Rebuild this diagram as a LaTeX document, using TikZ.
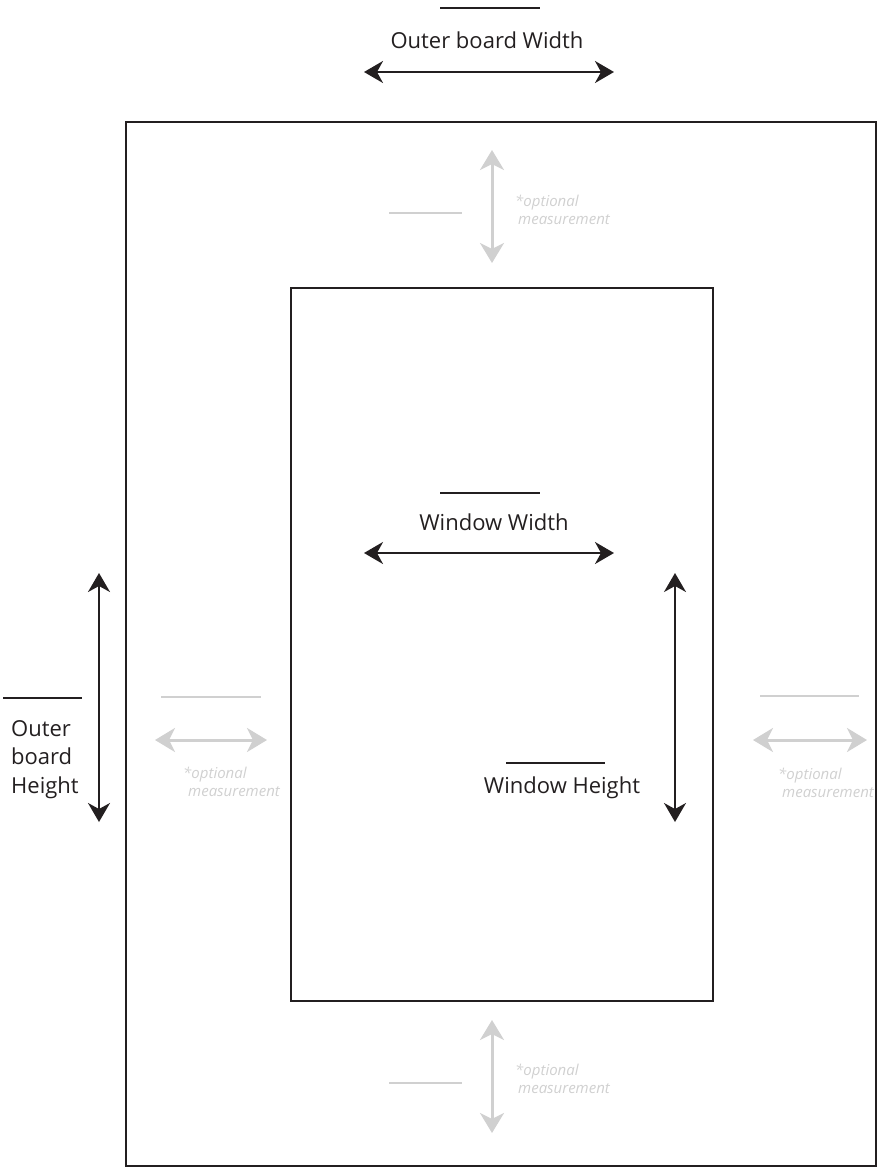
\documentclass[tikz,border=0pt]{standalone}
\usepackage{fontspec}
\setmainfont{Open Sans}
\usetikzlibrary{arrows.meta}
\definecolor{ink}{RGB}{35,31,32}
\definecolor{optgray}{RGB}{208,208,208}

\begin{document}
\begin{tikzpicture}[x=1pt,y=-1pt,
  dim/.style={ink, line width=2pt,
    {Stealth[length=19pt,width=22pt,inset=6pt]}-{Stealth[length=19pt,width=22pt,inset=6pt]}},
  optdim/.style={optgray, line width=3pt,
    {Stealth[length=20pt,width=24pt,inset=6pt]}-{Stealth[length=20pt,width=24pt,inset=6pt]}},
  blank/.style={ink, line width=2pt},
  optblank/.style={optgray, line width=2.5pt},
  lbl/.style={font=\fontsize{22}{28.5}\selectfont, text=ink, inner sep=0pt},
  optlbl/.style={font=\fontsize{15}{18}\selectfont\itshape, text=optgray, inner sep=0pt, align=left}]

\useasboundingbox (0,0) rectangle (880,1168);

% boards
\draw[ink, line width=2pt] (126,122) rectangle (876,1166);
\draw[ink, line width=2pt] (291,288) rectangle (713,1001);

% outer board width
\draw[blank] (440,8)--(540,8);
\node[lbl, anchor=base] (obw) at (487,48) {Outer board Width};
\coordinate (obwL) at (364,72);
\coordinate (obwR) at (614,72);
\draw[dim] (obwL)--(obwR);

% window width
\draw[blank] (440,493)--(540,493);
\node[lbl, anchor=base] (ww) at (494,530) {Window Width};
\coordinate (wwL) at (364,553);
\coordinate (wwR) at (614,553);
\draw[dim] (wwL)--(wwR);

% window height
\draw[blank] (506,763)--(605,763);
\node[lbl, anchor=base] (wh) at (562,793) {Window Height};
\coordinate (whT) at (675,573);
\coordinate (whB) at (675,822);
\draw[dim] (whT)--(whB);

% outer board height
\draw[blank] (3,698)--(82,698);
\node[lbl, anchor=north west, align=left] (obh) at (11,720) {Outer\\board\\Height};
\coordinate (obhT) at (99,573);
\coordinate (obhB) at (99,822);
\draw[dim] (obhT)--(obhB);

% optional top
\draw[optblank] (389,213)--(462,213);
\coordinate (otT) at (492,150);
\coordinate (otB) at (492,263);
\draw[optdim] (otT)--(otB);
\node[optlbl, anchor=north west] (ot) at (515,194.5) {*optional\\\hspace*{3pt}measurement};

% optional bottom
\draw[optblank] (389,1083)--(462,1083);
\coordinate (obT) at (492,1020);
\coordinate (obB) at (492,1133);
\draw[optdim] (obT)--(obB);
\node[optlbl, anchor=north west] (ob) at (515,1063.5) {*optional\\\hspace*{3pt}measurement};

% optional left
\draw[optblank] (161,697)--(261,697);
\coordinate (olL) at (155,740);
\coordinate (olR) at (267,740);
\draw[optdim] (olL)--(olR);
\node[optlbl, anchor=north west] (ol) at (183,766.5) {*optional\\\hspace*{5pt}measurement};

% optional right
\draw[optblank] (760,696)--(859,696);
\coordinate (orL) at (753,740);
\coordinate (orR) at (867,740);
\draw[optdim] (orL)--(orR);
\node[optlbl, anchor=north west] (or) at (778,767.5) {*optional\\\hspace*{4pt}measurement};

\end{tikzpicture}
\end{document}
